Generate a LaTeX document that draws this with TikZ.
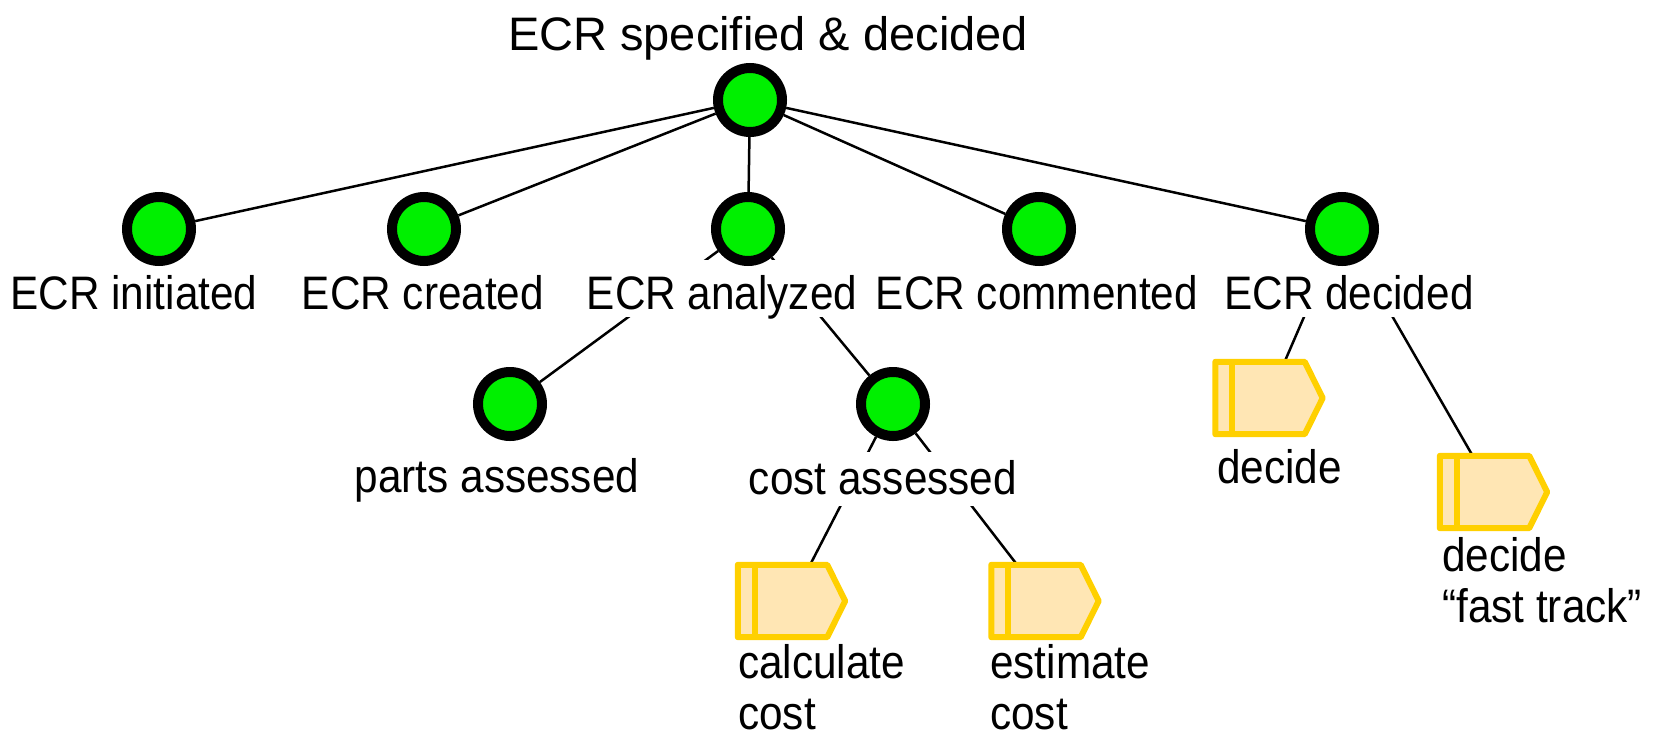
\documentclass[tikz,border=0pt]{standalone}
\usepackage{fontspec}
\setmainfont{Liberation Sans}[FakeStretch=0.9]
\newfontfamily\titlefont{Liberation Sans}
\pgfdeclarelayer{bg}
\pgfsetlayers{bg,main}
\definecolor{stategreen}{RGB}{0,240,0}
\definecolor{procfill}{RGB}{255,230,180}
\definecolor{procline}{RGB}{255,208,0}
\tikzset{
  state/.style={circle, draw=black, fill=stategreen, line width=10pt, minimum size=64pt, inner sep=0pt},
  lbl/.style={fill=white, anchor=base, inner xsep=4pt, inner ysep=0pt, text height=49pt, text depth=8pt},
  ttl/.style={anchor=base, inner sep=0pt},
  ptext/.style={anchor=base west, inner sep=0pt, align=left, text depth=0pt},
  proc/.style={rectangle, minimum width=107pt, minimum height=72pt, inner sep=0pt},
  procborder/.style={draw=procline, fill=procfill, line width=6pt, line join=round},
  edge/.style={draw=black, line width=2.5pt}
}
\newcommand\procdraw[1]{%
  \draw[procborder] (#1.north west) -- ([xshift=-18pt]#1.north east) -- (#1.east)
     -- ([xshift=-18pt]#1.south east) -- (#1.south west) -- cycle;
  \draw[procborder] ([xshift=17pt]#1.north west) -- ([xshift=17pt]#1.south west);}
\begin{document}
\begin{tikzpicture}[x=1pt, y=-1pt, font=\fontsize{47}{51}\selectfont]
\useasboundingbox (0,0) rectangle (1666,737);
% labels
\node[ttl] (ttop) at (768,50) {\titlefont ECR specified \& decided};
\node[lbl] (linit) at (134,309) {ECR initiated};
\node[lbl] (lcreat) at (423,309) {ECR created};
\node[lbl] (lanal) at (722,309) {ECR analyzed};
\node[lbl] (lcomm) at (1037,309) {ECR commented};
\node[lbl] (ldec) at (1349,309) {ECR decided};
\node[lbl] (lparts) at (497,492) {parts assessed};
\node[lbl, text height=42pt, text depth=12pt] (lcost) at (883,494) {cost assessed};
% states
\node[state] (top) at (750,100) {};
\node[state] (init) at (159,229) {};
\node[state] (creat) at (424,229) {};
\node[state] (anal) at (748,229) {};
\node[state] (comm) at (1039,229) {};
\node[state] (dec) at (1342,229) {};
\node[state] (parts) at (510,404) {};
\node[state] (cost) at (893,404) {};
% processes
\node[proc] (pdecide) at (1269,398) {};
\node[proc] (pfast) at (1493.5,492) {};
\node[proc] (pcalc) at (791.5,601) {};
\node[proc] (pest) at (1045,601) {};
\procdraw{pdecide}
\procdraw{pfast}
\procdraw{pcalc}
\procdraw{pest}
\node[ptext] (tdecide) at (1217,483) {decide};
\node[ptext] (tfast) at (1442,622) {decide\\“fast track”};
\node[ptext] (tcalc) at (738,729) {calculate\\cost};
\node[ptext] (test) at (990,729) {estimate\\cost};
% edges
\begin{pgfonlayer}{bg}
\draw[edge] (top) -- (init);
\draw[edge] (top) -- (creat);
\draw[edge] (top) -- (anal);
\draw[edge] (top) -- (comm);
\draw[edge] (top) -- (dec);
\draw[edge] (anal) -- (parts);
\draw[edge] (anal) -- (cost);
\draw[edge] (cost) -- (pcalc);
\draw[edge] (cost) -- (pest);
\draw[edge] (dec) -- (pdecide);
\draw[edge] (dec) -- (pfast);
\end{pgfonlayer}
\end{tikzpicture}
\end{document}
